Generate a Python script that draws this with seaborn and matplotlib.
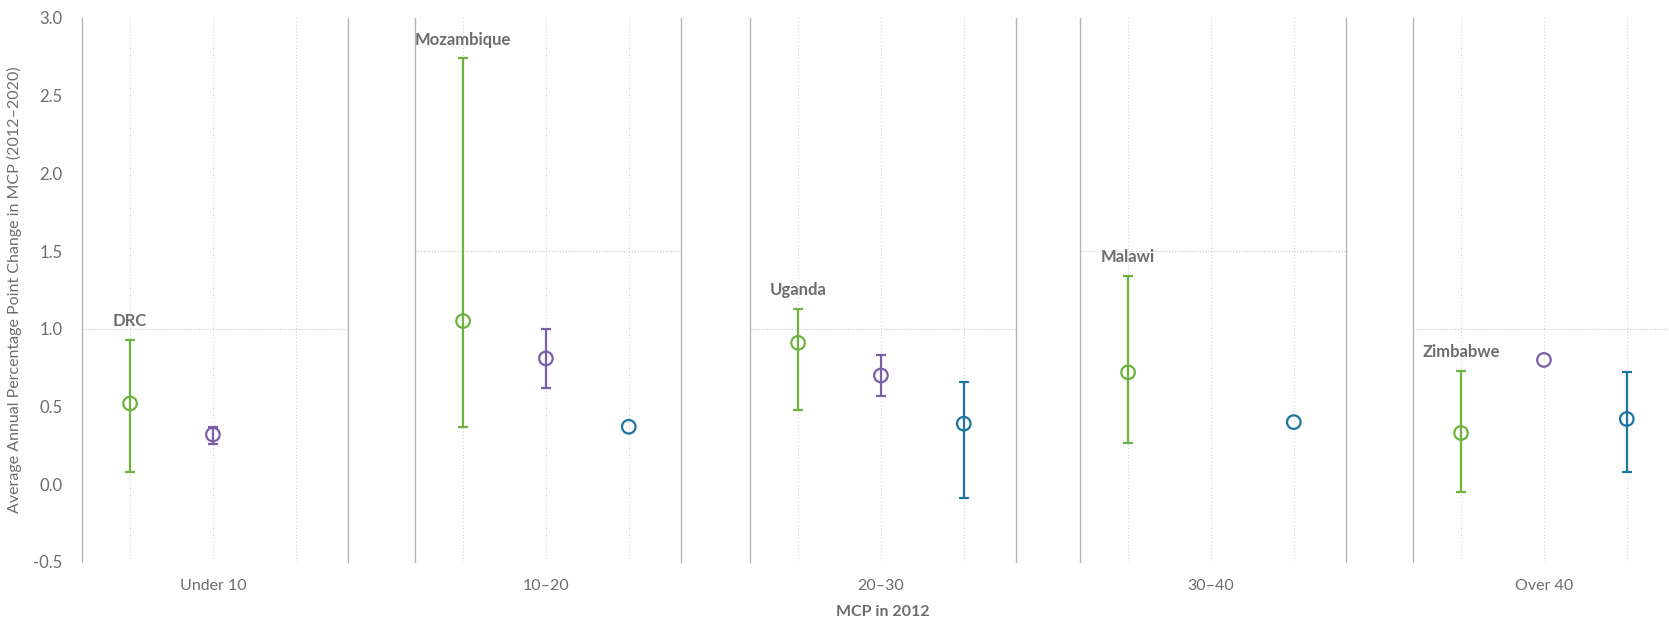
import numpy as np
import pandas as pd
import matplotlib.pyplot as plt
import seaborn as sns

# data
groups = ["Under 10", "10\u201320", "20\u201330", "30\u201340", "Over 40"]
ref_line = [1.0, 1.5, 1.0, 1.5, 1.0]
country = ["DRC", "Mozambique", "Uganda", "Malawi", "Zimbabwe"]
series = ["country", "peer", "region"]

country_val = [0.52, 1.05, 0.91, 0.72, 0.33]
country_lo = [0.08, 0.37, 0.48, 0.265, -0.05]
country_hi = [0.93, 2.74, 1.13, 1.34, 0.73]

peer_val = [0.32, 0.81, 0.70, np.nan, 0.80]
peer_lo = [0.26, 0.62, 0.57, np.nan, np.nan]
peer_hi = [0.37, 1.00, 0.83, np.nan, np.nan]

region_val = [np.nan, 0.37, 0.39, 0.40, 0.42]
region_lo = [np.nan, np.nan, -0.09, np.nan, 0.08]
region_hi = [np.nan, np.nan, 0.66, np.nan, 0.72]

colors = {"country": "#6db33f", "peer": "#7b5ea7", "region": "#1b75a0"}
grey = "#6d6d6d"

rows = []
for i, g in enumerate(groups):
    for s, v, lo, hi in [("country", country_val, country_lo, country_hi),
                         ("peer", peer_val, peer_lo, peer_hi),
                         ("region", region_val, region_lo, region_hi)]:
        rows.append(dict(group=g, series=s, pos=series.index(s),
                         value=v[i], lo=lo[i], hi=hi[i]))
df = pd.DataFrame(rows)

sns.set_theme(style="white")
plt.rcParams['font.family'] = ['Lato', 'DejaVu Sans']

W, H = 1669, 621
fig = plt.figure(figsize=(W / 100, H / 100), dpi=100)
lefts = [82, 415, 750, 1080, 1413]
pw = 266
top, bottom = 18, 562

for i, g in enumerate(groups):
    ax = fig.add_axes([lefts[i] / W, (H - bottom) / H, pw / W, (bottom - top) / H])
    d = df[df.group == g]
    ax.set_xlim(-0.58, 2.63)
    ax.set_ylim(-0.5, 3.0)
    for p in range(3):
        ax.axvline(p, color="#d0d0d0", ls=(0, (1, 2)), lw=0.8, zorder=0)
    ax.axhline(ref_line[i], color="#c8c8c8", ls=(0, (1, 1.5)), lw=0.8, zorder=0)

    de = d.dropna(subset=["lo"])
    for _, r in de.iterrows():
        ax.errorbar(r.pos, r.value, yerr=[[r.value - r.lo], [r.hi - r.value]],
                    fmt="none", ecolor=colors[r.series], elinewidth=1.6,
                    capsize=3.6, capthick=1.6, zorder=2)
    dv = d.dropna(subset=["value"])
    sns.scatterplot(data=dv, x="pos", y="value", hue="series", palette=colors,
                    ax=ax, legend=False, marker="o", s=95, linewidth=1.6, zorder=3)
    # open circles: the bar shows through
    coll = ax.collections[-1]
    coll.set_edgecolors([colors[s] for s in dv.series])
    coll.set_facecolors("none")

    c = d[d.series == "country"].iloc[0]
    ax.text(0, c.hi + 0.12, country[i], ha="center", va="center",
            color=grey, fontsize=12, fontweight="bold")

    ax.set_xticks([1])
    ax.set_xticklabels([g], color=grey, fontsize=11.5)
    ax.tick_params(axis="x", length=0, pad=12)
    ax.set_xlabel("")
    ax.set_ylabel("")
    for side in ["top", "bottom"]:
        ax.spines[side].set_visible(False)
    for side in ["left", "right"]:
        ax.spines[side].set_color("#b5b5b5")
        ax.spines[side].set_linewidth(1.0)
    if i == 0:
        ticks = np.arange(-0.5, 3.01, 0.5)
        ax.set_yticks(ticks)
        ax.set_yticklabels([f"{t:.1f}" for t in ticks], color=grey, fontsize=12)
        ax.tick_params(axis="y", length=0, pad=14)
        ax.set_ylabel("Average Annual Percentage Point Change in MCP (2012\u20132020)",
                      color=grey, fontsize=11.5, labelpad=8)
    else:
        ax.set_yticks([])
    if i == 4:
        ax.spines["right"].set_visible(False)

fig.text((750 + pw / 2) / W, 1 - 612 / H, "MCP in 2012", ha="center", va="center",
         color=grey, fontsize=11.5, fontweight="bold")

fig.savefig("out.png", dpi=100)
